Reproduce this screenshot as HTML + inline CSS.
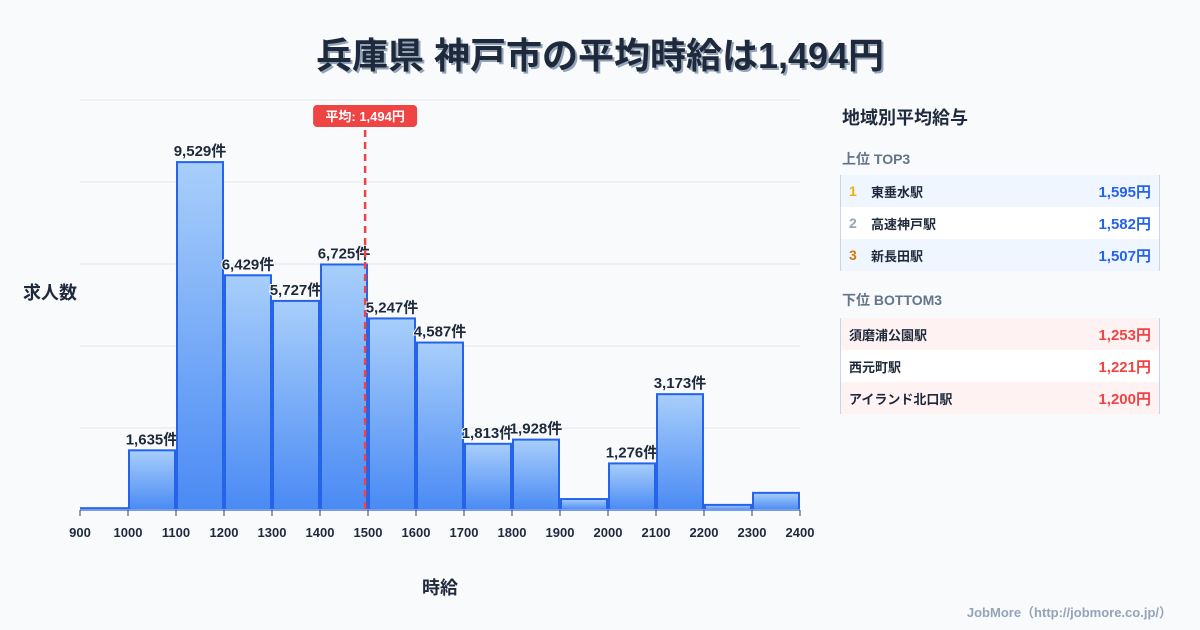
<!DOCTYPE html>
<html><head><meta charset="utf-8"><style>
body{margin:0;width:1200px;height:630px;background:#f8fafc;font-family:"Liberation Sans","Noto Sans CJK JP",sans-serif;position:relative;overflow:hidden;color:#1e293b}
.title{position:absolute;left:0;width:1200px;top:27px;text-align:center;font-size:36px;font-weight:bold;color:#1e293b;text-shadow:2px 2px 0 #94a3b8}
.panel{position:absolute;left:840px;top:99px;width:320px}
.ph{font-size:18px;font-weight:bold;margin:6px 0 0 2px;height:26px;line-height:26px}
.sub{font-size:14px;font-weight:bold;color:#64748b;margin:18px 0 6px 2px;height:20px;line-height:20px}
.sub2{margin:19px 0 8px 2px}
.tbl{border-left:1px solid #cbd5e1;border-right:1px solid #cbd5e1}
.row{height:32px;display:flex;align-items:center;font-size:13px;font-weight:bold;padding:0 8px}
.rk{width:22px;font-size:14px}
.nm{flex:1}
.val{font-size:15px}
.foot{position:absolute;right:28px;top:602px;font-size:13px;font-weight:bold;color:#94a3b8}
</style></head><body>
<div class="title">兵庫県 神戸市の平均時給は1,494円</div>
<svg id="chart" width="830" height="630" style="position:absolute;left:0;top:0"></svg>
<div class="panel">
<div class="ph">地域別平均給与</div>
<div class="sub">上位 TOP3</div>
<div class="tbl">
<div class="row" style="background:#eff6ff"><span class="rk" style="color:#eab308">1</span><span class="nm">東垂水駅</span><span class="val" style="color:#2563eb">1,595円</span></div>
<div class="row" style="background:#fff"><span class="rk" style="color:#94a3b8">2</span><span class="nm">高速神戸駅</span><span class="val" style="color:#2563eb">1,582円</span></div>
<div class="row" style="background:#eff6ff"><span class="rk" style="color:#d97706">3</span><span class="nm">新長田駅</span><span class="val" style="color:#2563eb">1,507円</span></div>
</div>
<div class="sub sub2">下位 BOTTOM3</div>
<div class="tbl">
<div class="row" style="background:#fef2f2"><span class="nm">須磨浦公園駅</span><span class="val" style="color:#ef4444">1,253円</span></div>
<div class="row" style="background:#fff"><span class="nm">西元町駅</span><span class="val" style="color:#ef4444">1,221円</span></div>
<div class="row" style="background:#fef2f2"><span class="nm">アイランド北口駅</span><span class="val" style="color:#ef4444">1,200円</span></div>
</div>
</div>
<div class="foot">JobMore（http://jobmore.co.jp/）</div>
<script>
const binStarts=[900,1000,1100,1200,1300,1400,1500,1600,1700,1800,1900,2000,2100,2200,2300];
const counts=[50,1635,9529,6429,5727,6725,5247,4587,1813,1928,300,1276,3173,140,470];
const xTicks=[900,1000,1100,1200,1300,1400,1500,1600,1700,1800,1900,2000,2100,2200,2300,2400];
const avgWage=1494;
const NS='http://www.w3.org/2000/svg';
const svg=document.getElementById('chart');
const X0=80,X1=800,Y0=510,YT=100,xmin=900,xmax=2400,ymax=11230;
const x=v=>X0+(v-xmin)/(xmax-xmin)*(X1-X0);
const y=v=>Y0-v/ymax*(Y0-YT);
function mk(t,a,txt){const e=document.createElementNS(NS,t);for(const k in a)e.setAttribute(k,a[k]);if(txt!=null)e.textContent=txt;svg.appendChild(e);return e;}
const defs=mk('defs',{});
defs.innerHTML='<linearGradient id="g" x1="0" y1="0" x2="0" y2="1"><stop offset="0" stop-color="#a8cffb"/><stop offset="1" stop-color="#4a8af4"/></linearGradient>';
for(let i=0;i<=5;i++){const g=mk('line',{x1:X0,x2:X1,y1:Y0-i*(Y0-YT)/5,y2:Y0-i*(Y0-YT)/5,stroke:'#e2e8f0','stroke-width':1});

}
binStarts.forEach((b,i)=>{
const x0=x(b)+1,x1=x(b+100)-1,yt=y(counts[i]);
const r=mk('rect',{x:x0,y:yt,width:x1-x0,height:Y0-yt,fill:'url(#g)',stroke:'#2563eb','stroke-width':2});


if(counts[i]>=1000){
const t=mk('text',{x:(x0+x1)/2,y:yt-6,'text-anchor':'middle','font-size':15,'font-weight':'bold',fill:'#1e293b',stroke:'#f8fafc','stroke-width':2,'paint-order':'stroke'},counts[i].toLocaleString('en-US')+'件');

}
});
const ax=mk('line',{x1:X0,x2:X1,y1:Y0,y2:Y0,stroke:'#cbd5e1'});


xTicks.forEach(v=>{
const tk=mk('line',{x1:x(v),x2:x(v),y1:Y0,y2:Y0+6,stroke:'#334155'});


const t=mk('text',{x:x(v),y:537,'text-anchor':'middle','font-size':13,'font-weight':'bold',fill:'#1e293b'},v);


});
const ax2=x(avgWage);
const al=mk('line',{x1:ax2,x2:ax2,y1:130,y2:Y0,stroke:'#ef4444','stroke-width':2.5,'stroke-dasharray':'7,5'});


const bg=mk('rect',{x:ax2-52,y:105,width:104,height:22,rx:4,fill:'#ef4444'});


const bt=mk('text',{x:ax2,y:121,'text-anchor':'middle','font-size':13,'font-weight':'bold',fill:'#fff'},'平均: '+avgWage.toLocaleString('en-US')+'円');


const yt=mk('text',{x:50,y:299,'text-anchor':'middle','font-size':18,'font-weight':'bold',fill:'#1e293b'},'求人数');


const xt=mk('text',{x:440,y:594,'text-anchor':'middle','font-size':18,'font-weight':'bold',fill:'#1e293b'},'時給');


</script>
</body></html>
